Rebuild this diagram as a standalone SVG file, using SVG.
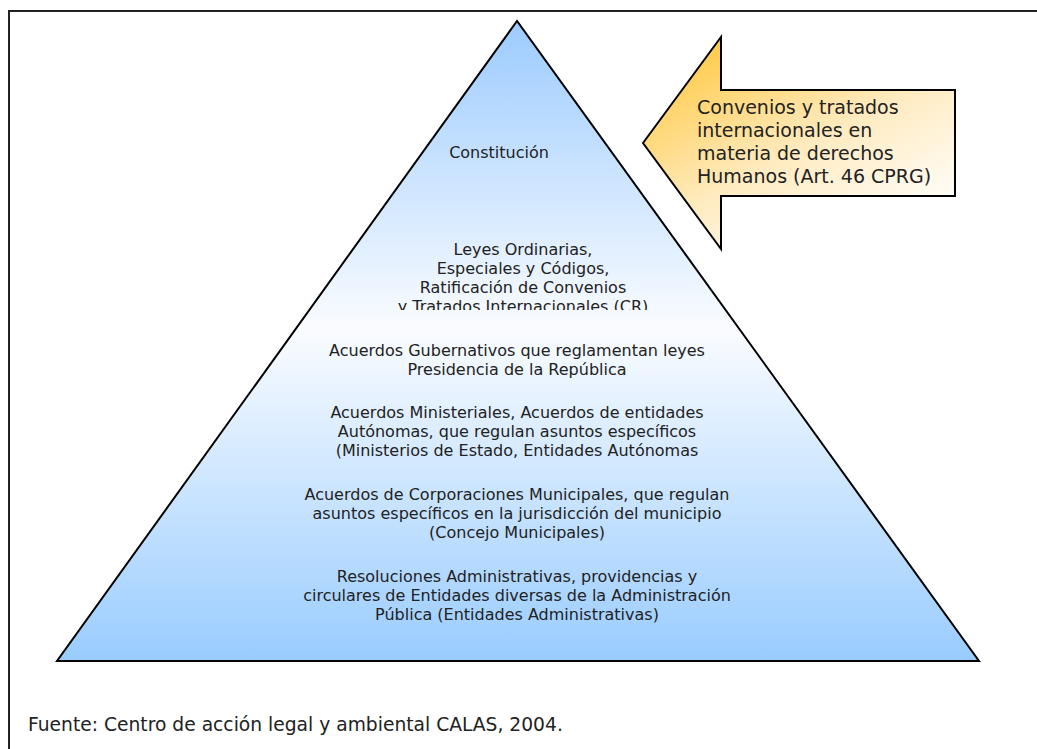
<svg xmlns="http://www.w3.org/2000/svg" width="1037" height="749" viewBox="0 0 1037 749">
  <defs>
    <linearGradient id="gPyr" x1="0" y1="0" x2="0" y2="1">
      <stop offset="0" stop-color="#9CCBFF"/>
      <stop offset="0.48" stop-color="#FAFCFF"/>
      <stop offset="1" stop-color="#99CCFF"/>
    </linearGradient>
    <linearGradient id="gArrow" x1="0.1" y1="0" x2="0.85" y2="0.95">
      <stop offset="0" stop-color="#FFC638"/>
      <stop offset="0.55" stop-color="#FFEBC0"/>
      <stop offset="1" stop-color="#FFFFFF"/>
    </linearGradient>
    <clipPath id="clipLeyes">
      <rect x="0" y="0" width="1037" height="310"/>
    </clipPath>
    <style>
      .lbl { font-family: "DejaVu Sans", Verdana, sans-serif; font-size: 16px; fill: #222; text-anchor: middle; }
      .call { font-family: "DejaVu Sans", Verdana, sans-serif; font-size: 19px; fill: #222; }
      .foot { font-family: "DejaVu Sans", Verdana, sans-serif; font-size: 18.7px; fill: #222; }
      .shape { stroke: #000; stroke-width: 2; stroke-linejoin: miter; }
    </style>
  </defs>

  <rect x="0" y="0" width="1037" height="749" fill="#FFFFFF"/>

  <g id="frame">
    <path d="M9,760 V11 H1045" fill="none" stroke="#222" stroke-width="2"/>
  </g>

  <g id="pyramid">
    <polygon class="shape" points="517,21 57,661 979,661" fill="url(#gPyr)"/>
  </g>

  <g id="callout">
    <polygon class="shape" points="643,143 721,37 721,90 955,90 955,196 721,196 721,249" fill="url(#gArrow)"/>
    <text class="call" x="697" y="114">Convenios y tratados</text>
    <text class="call" x="697" y="137">internacionales en</text>
    <text class="call" x="697" y="160">materia de derechos</text>
    <text class="call" x="697" y="183">Humanos (Art. 46 CPRG)</text>
  </g>

  <g id="level-constitucion">
    <text class="lbl" x="499" y="158">Constitución</text>
  </g>

  <g id="level-leyes" clip-path="url(#clipLeyes)">
    <text class="lbl" x="523" y="255">Leyes Ordinarias,</text>
    <text class="lbl" x="523" y="274">Especiales y Códigos,</text>
    <text class="lbl" x="523" y="293">Ratificación de Convenios</text>
    <text class="lbl" x="523" y="312">y Tratados Internacionales (CR)</text>
  </g>

  <g id="level-gubernativos">
    <text class="lbl" x="517" y="356">Acuerdos Gubernativos que reglamentan leyes</text>
    <text class="lbl" x="517" y="375">Presidencia de la República</text>
  </g>

  <g id="level-ministeriales">
    <text class="lbl" x="517" y="418">Acuerdos Ministeriales, Acuerdos de entidades</text>
    <text class="lbl" x="517" y="437">Autónomas, que regulan asuntos específicos</text>
    <text class="lbl" x="517" y="456">(Ministerios de Estado, Entidades Autónomas</text>
  </g>

  <g id="level-municipales">
    <text class="lbl" x="517" y="500">Acuerdos de Corporaciones Municipales, que regulan</text>
    <text class="lbl" x="517" y="519">asuntos específicos en la jurisdicción del municipio</text>
    <text class="lbl" x="517" y="538">(Concejo Municipales)</text>
  </g>

  <g id="level-resoluciones">
    <text class="lbl" x="517" y="582">Resoluciones Administrativas, providencias y</text>
    <text class="lbl" x="517" y="601">circulares de Entidades diversas de la Administración</text>
    <text class="lbl" x="517" y="620">Pública (Entidades Administrativas)</text>
  </g>

  <g id="connectors"/>

  <g id="footer">
    <text class="foot" x="28" y="731">Fuente: Centro de acción legal y ambiental CALAS, 2004.</text>
  </g>
</svg>
